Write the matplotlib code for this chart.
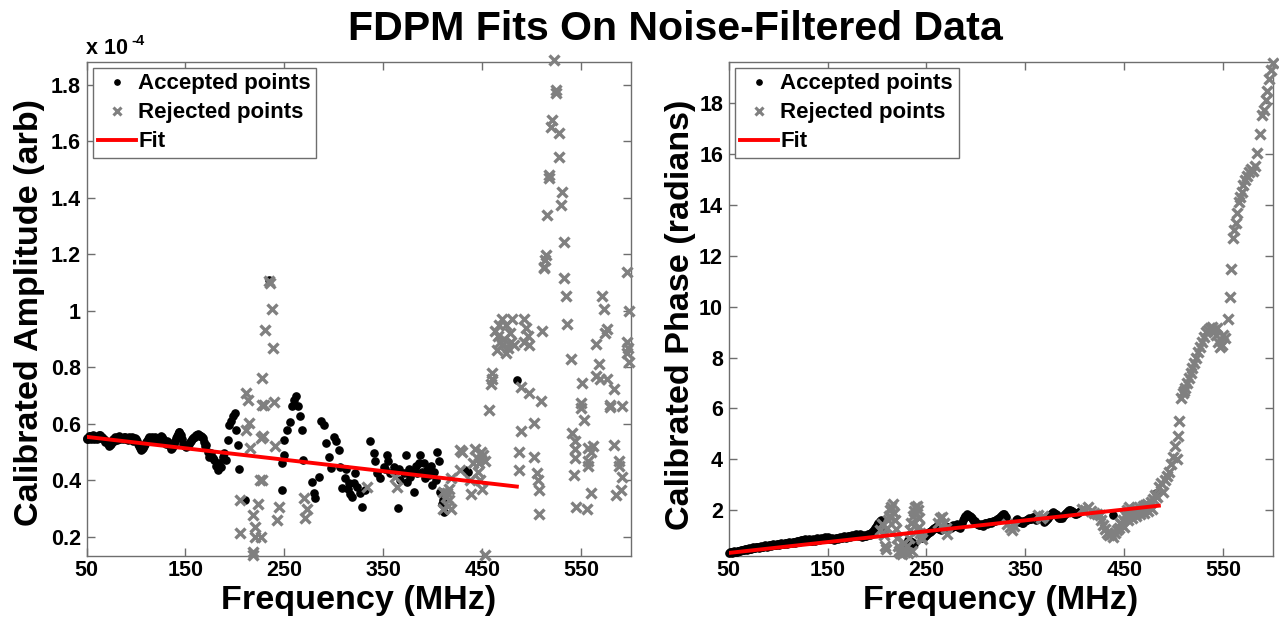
import matplotlib
matplotlib.use("Agg")
import matplotlib.pyplot as plt

# ---------------- data ----------------
amp_acc_freq = [50, 52, 54, 56, 58, 60, 62, 64, 66, 68, 70, 72, 74, 76, 78, 80, 82, 84, 86, 88,
                90, 92, 94, 96, 98, 100, 102, 104, 106, 108, 110, 112, 114, 116, 118, 120, 122, 124, 126, 128,
                130, 132, 134, 136, 138, 140, 142, 144, 146, 148, 150, 152, 154, 156, 158, 160, 162, 164, 166, 168,
                51, 53, 55, 57, 59, 61, 63, 65, 67, 69, 71, 73, 75, 77, 79, 81, 83, 85, 87, 89,
                91, 93, 95, 97, 99, 101, 103, 105, 107, 109, 111, 113, 115, 117, 119, 121, 123, 125, 127, 129,
                131, 133, 135, 137, 139, 141, 143, 145, 147, 149, 151, 153, 155, 157, 159, 161, 163, 165, 167, 169,
                170, 171, 173, 174, 176, 178, 179, 181, 183, 184, 186, 188, 189, 191, 193, 194, 196, 198, 200, 201,
                203, 204, 210, 234,
                247.6, 249.2, 249.9, 252.6, 255.3, 257.7, 259.3, 262, 263.4, 265.4, 267.8, 268.8, 247.6, 277.9, 279.6,
                281.3, 284.6, 287, 289.7, 292.4, 294.8, 297.2, 299.8, 302.5, 304.9, 306.6, 308.3, 311.6, 315, 318.4,
                321, 323.5, 326.8, 328.5, 331.9, 336.9, 340.3, 342, 343.7, 347.1, 350.4, 353.8, 357.2, 360.5, 364.6,
                367.3, 370.6, 373, 374.1, 377.4, 380.8, 384.2, 387.5, 390.9, 394.3, 399.4, 404.4, 407.8, 409.5, 411.1,
                312, 314, 316, 320, 352, 355, 362, 366, 376, 379, 383, 386, 389, 392, 396, 398, 401, 403, 406,
                410, 433, 436, 485]
amp_acc_val = [0.55, 0.548, 0.556, 0.552, 0.545, 0.55, 0.556, 0.56, 0.553, 0.548, 0.54, 0.53, 0.526, 0.535, 0.54, 0.548, 0.552, 0.545, 0.55, 0.555,
               0.548, 0.542, 0.55, 0.553, 0.547, 0.545, 0.53, 0.515, 0.51, 0.52, 0.535, 0.545, 0.55, 0.555, 0.548, 0.54, 0.545, 0.55, 0.552, 0.54,
               0.53, 0.535, 0.52, 0.515, 0.53, 0.55, 0.565, 0.57, 0.56, 0.53, 0.52, 0.522, 0.53, 0.54, 0.55, 0.555, 0.56, 0.562, 0.558, 0.55,
               0.545, 0.556, 0.548, 0.56, 0.552, 0.546, 0.562, 0.55, 0.545, 0.536, 0.535, 0.522, 0.53, 0.545, 0.552, 0.543, 0.556, 0.55, 0.545, 0.552,
               0.545, 0.553, 0.547, 0.541, 0.55, 0.538, 0.522, 0.508, 0.515, 0.528, 0.54, 0.552, 0.548, 0.545, 0.552, 0.538, 0.548, 0.556, 0.545, 0.535,
               0.54, 0.528, 0.512, 0.522, 0.54, 0.558, 0.572, 0.565, 0.545, 0.524, 0.518, 0.526, 0.535, 0.545, 0.552, 0.56, 0.565, 0.556, 0.553, 0.535,
               0.52, 0.526, 0.502, 0.484, 0.496, 0.48, 0.472, 0.45, 0.437, 0.461, 0.449, 0.484, 0.496, 0.472, 0.544, 0.595, 0.61, 0.627, 0.639, 0.579,
               0.526, 0.44, 0.33, 1.11,
               0.461, 0.49, 0.544, 0.579, 0.605, 0.662, 0.686, 0.698, 0.662, 0.627, 0.577, 0.473, 0.366, 0.395, 0.354,
               0.336, 0.413, 0.609, 0.597, 0.532, 0.484, 0.443, 0.555, 0.538, 0.508, 0.449, 0.372, 0.407, 0.39, 0.342,
               0.425, 0.378, 0.354, 0.306, 0.366, 0.538, 0.496, 0.467, 0.425, 0.407, 0.449, 0.49, 0.425, 0.449, 0.301,
               0.401, 0.425, 0.49, 0.395, 0.413, 0.36, 0.425, 0.49, 0.461, 0.437, 0.384, 0.499, 0.36, 0.318, 0.289,
               0.44, 0.37, 0.35, 0.39, 0.44, 0.47, 0.43, 0.44, 0.44, 0.43, 0.45, 0.46, 0.43, 0.41, 0.42, 0.45, 0.43, 0.40, 0.47,
               0.33, 0.437, 0.43, 0.755]

amp_rej_freq = [205.4, 205.4, 211.4, 213.2, 214.2, 211.4, 214.8, 218.2, 219.9, 220.7, 218.8, 223.3, 224.9, 226.6, 227.6,
                227.6, 230, 234, 235.7, 237.4, 238.4, 239.8, 240.8, 244.1, 242.5, 226, 218.5, 229, 228.3, 227.3,
                269.4, 272.9, 271.2, 333.6, 362.3, 364, 414.6, 416, 418, 415, 428, 428,
                512.4, 513, 532.6, 534.3, 536, 539.4, 571.4, 572.8, 576.5, 574.5, 564.7, 568, 564.7, 569, 576,
                551.2, 583.2, 578.8, 579.5, 591.7, 596.7, 598.4, 596, 597, 596, 598, 550, 550, 553, 541, 543.4,
                544, 544, 557, 562, 560, 557, 557, 542.7, 559.6, 544.4, 556.3, 583.2, 588.3, 588.3, 591.7, 590, 585,
                456.7, 460, 460, 459,
                463, 466, 468, 470, 472, 474, 476, 478, 480, 482, 465, 470, 474, 467, 479,
                492, 494, 496, 497, 492, 510.7, 489, 497, 509, 502.2, 488.8, 487, 487, 502.2, 505, 506, 507, 507.3,
                429.7, 443, 445, 447, 453, 441, 449, 451, 418, 416, 410, 413, 410, 438, 439, 448, 450, 446, 453.3,
                522.5, 524.2, 525, 520.8, 520, 527.5, 527.5, 517.4, 517.6, 531, 529.3, 515.8, 532.6, 514.1, 512.4]
amp_rej_val = [0.33, 0.212, 0.71, 0.686, 0.603, 0.58, 0.514, 0.277, 0.235, 0.2, 0.146, 0.318, 0.4, 0.55, 0.668,
               0.763, 0.933, 1.107, 1.1, 1.006, 0.87, 0.676, 0.52, 0.306, 0.259, 0.2, 0.137, 0.668, 0.556, 0.4,
               0.336, 0.3, 0.265, 0.378, 0.413, 0.378, 0.354, 0.33, 0.30, 0.31, 0.508, 0.437,
               1.151, 1.18, 1.116, 1.054, 0.953, 0.828, 1.052, 1.006, 0.935, 0.92, 0.882, 0.811, 0.77, 0.76, 0.76,
               0.745, 0.722, 0.668, 0.66, 0.662, 1.137, 1.0, 0.89, 0.87, 0.85, 0.82, 0.675, 0.655, 0.615, 0.568, 0.51,
               0.48, 0.54, 0.515, 0.52, 0.5, 0.45, 0.47, 0.419, 0.354, 0.306, 0.3, 0.526, 0.47, 0.45, 0.413, 0.366, 0.348,
               0.65, 0.78, 0.76, 0.74,
               0.93, 0.91, 0.89, 0.88, 0.9, 0.95, 0.87, 0.92, 0.97, 0.88, 0.86, 0.97, 0.85, 0.95, 0.89,
               0.97, 0.94, 0.91, 0.88, 0.89, 0.93, 0.73, 0.71, 0.68, 0.603, 0.573, 0.502, 0.437, 0.484, 0.425, 0.4, 0.366, 0.28,
               0.502, 0.51, 0.48, 0.46, 0.47, 0.46, 0.5, 0.49, 0.41, 0.37, 0.36, 0.34, 0.3, 0.4, 0.35, 0.4, 0.37, 0.43, 0.137,
               1.888, 1.783, 1.77, 1.677, 1.65, 1.629, 1.546, 1.48, 1.47, 1.422, 1.374, 1.338, 1.244, 1.196, 1.155]

amp_fit_freq = [50, 485]
amp_fit_val = [0.554, 0.378]

phase_acc_freq = [50, 52, 54, 56, 58, 60, 62, 64, 66, 68, 70, 72, 74, 76, 78, 80, 82, 84, 86, 88,
                  90, 92, 94, 96, 98, 100, 102, 104, 106, 108, 110, 112, 114, 116, 118, 120, 122, 124, 126, 128,
                  130, 132, 134, 136, 138, 140, 142, 144, 146, 148, 150, 152, 154, 156, 158, 160, 162, 164, 166, 168,
                  170, 172, 174, 176, 178, 180, 182, 184, 186, 188, 190, 192, 194, 196, 198, 200, 201, 203, 204, 206,
                  51, 53, 55, 57, 59, 61, 63, 65, 67, 69, 71, 73, 75, 77, 79, 81, 83, 85, 87, 89,
                  91, 93, 95, 97, 99, 101, 103, 105, 107, 109, 111, 113, 115, 117, 119, 121, 123, 125, 127, 129,
                  131, 133, 135, 137, 139, 141, 143, 145, 147, 149, 151, 153, 155, 157, 159, 161, 163, 165, 167, 169,
                  171, 173, 175, 177, 179, 181, 183, 185, 187, 189, 191, 193, 195, 197, 199,
                  229, 231, 233, 235, 237,
                  246, 248, 250, 252, 254, 256, 258, 260, 262, 264, 266, 268, 272, 274, 276, 278, 280, 282, 284, 286,
                  288, 290, 292, 294, 296, 298, 300, 302, 304, 306, 308, 310, 312, 314, 316, 318, 320, 322, 324, 326,
                  328, 330, 341, 343, 345, 347, 349, 351, 353, 355, 357, 359, 361,
                  369, 371, 373, 375, 377, 379, 381, 383, 385, 387, 389, 391, 393, 395, 397, 399, 401, 403, 405,
                  247, 249, 251, 253, 255, 257, 259, 261, 263, 265, 267, 270, 273, 275, 277, 279, 281, 283, 285, 287,
                  289, 291, 293, 295, 297, 299, 301, 303, 305, 307, 309, 311, 313, 315, 317, 319, 321, 323, 325, 327,
                  329, 342, 344, 346, 348, 350, 352, 354, 356, 358, 360, 370, 372, 374, 376, 378, 380, 382, 384, 386,
                  388, 390, 392, 394, 396, 398, 400, 402, 404,
                  439, 482]
phase_acc_val = [0.30, 0.33, 0.34, 0.36, 0.36, 0.39, 0.40, 0.43, 0.44, 0.45, 0.47, 0.47, 0.49, 0.51, 0.53, 0.54, 0.55, 0.56, 0.57, 0.58,
                 0.59, 0.61, 0.62, 0.63, 0.64, 0.66, 0.66, 0.68, 0.68, 0.69, 0.71, 0.72, 0.72, 0.73, 0.75, 0.77, 0.79, 0.81, 0.82, 0.83,
                 0.81, 0.80, 0.80, 0.81, 0.83, 0.85, 0.86, 0.87, 0.89, 0.90, 0.89, 0.87, 0.86, 0.86, 0.87, 0.89, 0.90, 0.91, 0.93, 0.94,
                 0.95, 0.96, 0.98, 0.99, 1.00, 1.00, 1.01, 0.99, 0.98, 0.99, 1.01, 1.05, 1.10, 1.18, 1.28, 1.40, 1.48, 1.58, 1.62, 1.20,
                 0.34, 0.30, 0.37, 0.33, 0.40, 0.37, 0.44, 0.41, 0.48, 0.43, 0.50, 0.45, 0.53, 0.49, 0.56, 0.52, 0.59, 0.54, 0.61, 0.56,
                 0.63, 0.58, 0.66, 0.61, 0.68, 0.63, 0.70, 0.65, 0.72, 0.67, 0.75, 0.69, 0.76, 0.71, 0.79, 0.74, 0.83, 0.78, 0.86, 0.79,
                 0.84, 0.77, 0.84, 0.79, 0.88, 0.82, 0.90, 0.85, 0.93, 0.87, 0.92, 0.84, 0.89, 0.83, 0.91, 0.86, 0.94, 0.89, 0.97, 0.91,
                 0.99, 0.93, 1.02, 0.96, 1.04, 0.97, 1.04, 0.95, 1.02, 0.96, 1.06, 1.02, 1.14, 1.22, 1.34,
                 0.56, 0.83, 0.78, 0.74, 0.68,
                 0.89, 0.95, 1.02, 1.08, 1.14, 1.22, 1.28, 1.35, 1.30, 1.24, 1.28, 1.30, 1.32, 1.34, 1.36, 1.38, 1.41, 1.35, 1.30, 1.50,
                 1.70, 1.78, 1.82, 1.78, 1.68, 1.58, 1.50, 1.44, 1.42, 1.40, 1.44, 1.48, 1.50, 1.52, 1.54, 1.57, 1.60, 1.65, 1.74, 1.82,
                 1.84, 1.72, 1.62, 1.58, 1.52, 1.50, 1.55, 1.60, 1.63, 1.66, 1.70, 1.72, 1.62,
                 1.52, 1.60, 1.70, 1.80, 1.88, 1.90, 1.84, 1.74, 1.68, 1.70, 1.80, 1.90, 1.96, 2.00, 1.96, 1.88, 1.84, 1.90, 1.96,
                 0.92, 0.98, 1.05, 1.12, 1.18, 1.25, 1.31, 1.38, 1.27, 1.22, 1.32, 1.28, 1.35, 1.30, 1.40, 1.36, 1.44, 1.38, 1.40, 1.60,
                 1.75, 1.84, 1.76, 1.74, 1.62, 1.55, 1.46, 1.40, 1.45, 1.38, 1.47, 1.46, 1.54, 1.50, 1.57, 1.55, 1.63, 1.70, 1.78, 1.86,
                 1.78, 1.66, 1.54, 1.55, 1.48, 1.58, 1.62, 1.67, 1.64, 1.74, 1.68, 1.56, 1.66, 1.76, 1.84, 1.92, 1.86, 1.80, 1.70, 1.72,
                 1.76, 1.86, 1.92, 2.02, 1.96, 1.92, 1.86, 1.88, 1.94,
                 1.80, 2.65]

phase_rej_freq = [203, 205, 207, 208, 209, 210, 211, 212, 213, 214, 216, 217, 218, 219, 220, 221, 222, 223, 225, 226, 227, 228,
                  230, 231, 232, 233, 234, 235, 236, 237, 238, 240, 241, 242, 243, 244, 245, 246,
                  262, 264, 266, 268, 270, 271, 331, 334, 337, 339, 363, 366, 368,
                  407, 410, 413, 416, 419, 422, 425, 427, 429, 431, 433, 435, 437, 439, 441, 443, 445, 447, 449, 451,
                  453, 455, 457, 459, 461, 463, 465, 467, 469, 471, 473, 475, 477, 479, 481, 483, 485, 487, 489, 491,
                  493, 495, 497, 499, 501, 503, 446, 450, 454, 458, 462, 466, 470, 474, 478,
                  504, 505, 507, 509, 510, 511, 513, 515, 517, 519, 521, 523, 525, 527, 529, 531, 533, 535, 537, 539,
                  541, 543, 544, 545, 547, 549, 550, 552, 555, 557, 558, 560, 561, 563, 564, 566, 567, 569, 570, 572,
                  574, 576, 578, 580, 582, 584, 587, 589, 591, 593, 594, 596, 598, 600]
phase_rej_val = [1.2, 1.45, 1.0, 0.6, 0.45, 1.3, 1.6, 1.75, 2.0, 2.1, 2.25, 1.9, 1.6, 1.25, 0.9, 0.6, 0.4, 0.3, 0.25, 0.45, 0.7, 0.35,
                 0.6, 0.3, 0.9, 1.2, 1.5, 0.4, 1.75, 1.95, 2.1, 2.15, 2.0, 1.7, 1.35, 1.1, 0.95, 0.85,
                 1.5, 1.7, 1.74, 1.5, 1.3, 1.05, 1.45, 1.32, 1.2, 1.38, 1.8, 1.7, 1.75,
                 2.05, 2.0, 2.1, 1.95, 1.9, 1.85, 1.8, 1.6, 1.4, 1.25, 1.1, 1.0, 1.05, 0.95, 1.1, 1.2, 1.3, 1.45, 1.6, 1.8,
                 2.0, 2.1, 1.9, 2.0, 2.05, 2.0, 2.1, 1.95, 2.15, 2.2, 2.25, 2.15, 2.3, 2.45, 2.6, 2.5, 2.9, 3.05, 2.7, 3.2,
                 3.35, 3.5, 3.8, 4.1, 4.5, 4.0, 1.5, 1.35, 1.6, 1.7, 1.75, 1.85, 1.9, 1.95, 2.05,
                 4.9, 5.5, 6.4, 6.6, 6.7, 6.8, 7.0, 7.2, 7.4, 7.6, 7.8, 8.0, 8.2, 8.4, 8.6, 8.8, 9.0, 9.1, 9.15, 9.2,
                 9.1, 8.9, 9.15, 8.6, 8.4, 8.5, 8.9, 8.75, 9.5, 10.4, 11.5, 12.7, 13.0, 13.3, 13.7, 14.1, 14.3, 14.5, 14.8, 15.0,
                 15.15, 15.3, 15.4, 15.35, 15.55, 16.05, 16.8, 17.55, 17.75, 18.15, 18.5, 18.95, 19.3, 19.6]

phase_fit_freq = [50, 485]
phase_fit_val = [0.31, 2.17]

x_ticks = [50, 150, 250, 350, 450, 550]
amp_ticks = [0.2, 0.4, 0.6, 0.8, 1.0, 1.2, 1.4, 1.6, 1.8]
amp_tick_labels = ['0.2', '0.4', '0.6', '0.8', '1', '1.2', '1.4', '1.6', '1.8']
phase_ticks = [2, 4, 6, 8, 10, 12, 14, 16, 18]

title_text = 'FDPM Fits On Noise-Filtered Data'
xlabel_text = 'Frequency (MHz)'
amp_ylabel = 'Calibrated Amplitude (arb)'
phase_ylabel = 'Calibrated Phase (radians)'
legend_labels = ['Accepted points', 'Rejected points', 'Fit']

# ---------------- figure ----------------
plt.rcParams['font.family'] = ['Liberation Sans', 'DejaVu Sans']
plt.rcParams['font.weight'] = 'bold'

W, H = 1279, 619
fig = plt.figure(figsize=(W / 100, H / 100), dpi=100)


def rect(x0, y0, x1, y1):
    return [x0 / W, 1 - y1 / H, (x1 - x0) / W, (y1 - y0) / H]


ax1 = fig.add_axes(rect(86.5, 61.7, 630.6, 555.5))
ax2 = fig.add_axes(rect(728.6, 61.7, 1272.6, 555.5))

SPINE = '#6e6e6e'
GRAY = '#808080'


def draw(ax, fa, va, fr, vr, ff, vf):
    ax.plot(fa, va, linestyle='none', marker='o', ms=5.2, color='black',
            label=legend_labels[0], clip_on=False, zorder=3)
    ax.plot(fr, vr, linestyle='none', marker='x', ms=7.5, mew=2.4, color=GRAY,
            label=legend_labels[1], clip_on=False, zorder=4)
    ax.plot(ff, vf, color='red', lw=2.8, label=legend_labels[2], zorder=5)
    ax.set_xlim(50, 600)
    ax.set_xticks(x_ticks)
    ax.tick_params(direction='in', length=6, width=1, color=SPINE, top=True, right=True,
                   labelsize=15.5, labelcolor='black')
    ax.tick_params(axis='x', pad=3)
    ax.tick_params(axis='y', pad=4)
    for s in ax.spines.values():
        s.set_color(SPINE)
        s.set_linewidth(1.0)
    leg = ax.legend(loc='upper left', fontsize=16, frameon=True, fancybox=False,
                    edgecolor=SPINE, framealpha=1, borderpad=0.25, labelspacing=0.36,
                    handlelength=1.7, handletextpad=0.1, borderaxespad=0.28)
    leg.get_frame().set_linewidth(1.0)
    hs = leg.legend_handles
    hs[0].set_markersize(3.8)
    hs[1].set_markersize(5.5)
    hs[1].set_markeredgewidth(2.2)
    for t in leg.get_texts():
        t.set_fontweight('bold')


draw(ax1, amp_acc_freq, amp_acc_val, amp_rej_freq, amp_rej_val, amp_fit_freq, amp_fit_val)
ax1.set_ylim(0.134, 1.882)
ax1.set_yticks(amp_ticks)
ax1.set_yticklabels(amp_tick_labels)

draw(ax2, phase_acc_freq, phase_acc_val, phase_rej_freq, phase_rej_val, phase_fit_freq, phase_fit_val)
ax2.set_ylim(0.21, 19.64)
ax2.set_yticks(phase_ticks)

# labels
fig.text(675 / W, 1 - 40.5 / H, title_text, ha='center', va='baseline', fontsize=29.6, fontweight='bold')
fig.text(358.5 / W, 1 - 609 / H, xlabel_text, ha='center', va='baseline', fontsize=24.6, fontweight='bold')
fig.text(1000.6 / W, 1 - 609 / H, xlabel_text, ha='center', va='baseline', fontsize=24.6, fontweight='bold')
fig.text(38.5 / W, 1 - 312 / H, amp_ylabel, ha='center', va='baseline', rotation=90,
         rotation_mode='anchor', fontsize=24.6, fontweight='bold')
fig.text(689.5 / W, 1 - 315 / H, phase_ylabel, ha='center', va='baseline', rotation=90,
         rotation_mode='anchor', fontsize=24.6, fontweight='bold')

# exponent label of the amplitude axis
fig.text(86 / W, 1 - 54 / H, 'x 10', ha='left', va='baseline', fontsize=15.5, fontweight='bold')
fig.text(131 / W, 1 - 45 / H, '-4', ha='left', va='baseline', fontsize=10.5, fontweight='bold')

fig.savefig('out.png', dpi=100)
